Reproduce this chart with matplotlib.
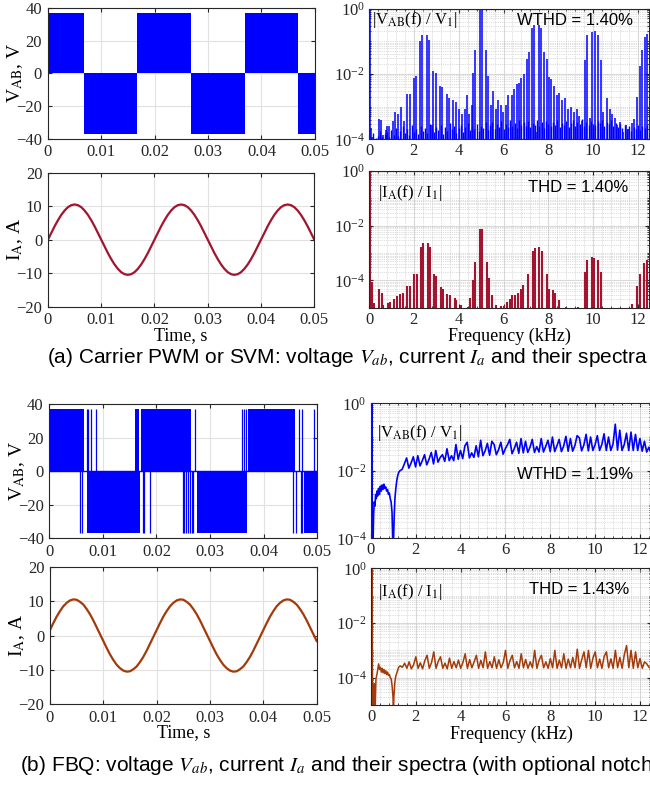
import numpy as np
import matplotlib.pyplot as plt
from matplotlib.ticker import MultipleLocator, LogLocator, NullFormatter, FixedLocator

# ---------------- data ----------------
V_DC = 37.0  # level of the switched line voltage, V

# (a) carrier PWM: line voltage blocks (edges in s, level in V)
a1_edges = [0.0, 0.0068, 0.0168, 0.0268, 0.0369, 0.0468, 0.05]
a1_levels = [37, -37, 37, -37, 37, -37]

# (a) phase current, sampled every 0.625 ms
t_cur = np.linspace(0, 0.05, 81)
ia_pwm = [0.0, 2.0, 4.0, 5.8, 7.4, 8.7, 9.7, 10.3, 10.5, 10.3, 9.7, 8.7, 7.4, 5.8, 4.0, 2.0,
          0.0, -2.0, -4.0, -5.8, -7.4, -8.7, -9.7, -10.3, -10.5, -10.3, -9.7, -8.7, -7.4, -5.8, -4.0, -2.0,
          0.0, 2.0, 4.0, 5.8, 7.4, 8.7, 9.7, 10.3, 10.5, 10.3, 9.7, 8.7, 7.4, 5.8, 4.0, 2.0,
          0.0, -2.0, -4.0, -5.8, -7.4, -8.7, -9.7, -10.3, -10.5, -10.3, -9.7, -8.7, -7.4, -5.8, -4.0, -2.0,
          0.0, 2.0, 4.0, 5.8, 7.4, 8.7, 9.7, 10.3, 10.5, 10.3, 9.7, 8.7, 7.4, 5.8, 4.0, 2.0,
          0.0]

# (a) voltage spectrum: harmonic lines (kHz, |V/V1|)
a2_f = [0.05, 0.07, 0.2, 0.43, 0.52, 0.64, 0.74, 0.82, 0.9, 1.05, 1.17, 1.3, 1.43, 1.56, 1.71, 1.83,
        2.0, 2.1, 2.27, 2.38, 2.57, 2.67, 2.79, 2.87, 2.97, 3.16, 3.27, 3.46, 3.57, 3.76, 3.86,
        4.03, 4.13, 4.28, 4.38, 4.47, 4.58, 4.65, 4.75, 4.95, 5.05, 5.22, 5.32, 5.44, 5.54, 5.66,
        5.77, 5.87, 5.99, 6.09, 6.21, 6.36, 6.46, 6.58, 6.7, 6.8, 6.91, 7.03, 7.13, 7.25, 7.34,
        7.47, 7.58, 7.67, 7.82, 7.92, 8.02, 8.14, 8.25, 8.37, 8.48, 8.62, 8.74, 8.89, 9.0, 9.15,
        9.26, 9.38, 9.51, 9.63, 9.73, 9.85, 9.96, 10.07, 10.22, 10.33, 10.45, 10.6, 10.74, 10.86,
        10.97, 11.08, 11.19, 11.34, 11.46, 11.56, 11.71, 11.83, 11.96, 12.08, 12.18, 12.3, 12.41]
a2_m = [1.0, 2.2e-4, 1.2e-4, 4.3e-4, 3.9e-4, 1.4e-4, 1.9e-4, 2.6e-4, 2.6e-4, 3.6e-4, 6.7e-4, 5.9e-4,
        9.6e-4, 3.6e-4, 2.4e-3, 2.4e-3, 7.6e-3, 8.6e-3, 9.9e-2, 0.15, 0.16, 0.106, 2.8e-4, 0.012,
        0.0103, 4.2e-3, 3.9e-3, 2.4e-3, 1.9e-3, 1.6e-3, 1.4e-3, 8.6e-4, 5.9e-4, 8.6e-4, 2.2e-3,
        5.9e-4, 1.1e-3, 0.011, 0.054, 1.0, 0.95, 0.054, 8.6e-3, 1.1e-3, 2.9e-3, 8.6e-4, 1.6e-3,
        1.1e-3, 6.7e-4, 1.1e-3, 2.3e-3, 2.3e-3, 3.5e-3, 4.9e-3, 5.3e-3, 7.6e-3, 0.01, 0.029, 0.048,
        0.26, 0.31, 1.7e-4, 0.31, 0.26, 0.048, 0.029, 8e-3, 6.8e-3, 4.2e-3, 2.3e-3, 2.6e-3, 1.6e-3,
        1.8e-3, 8.6e-4, 9.6e-4, 6.7e-4, 8.6e-4, 5.3e-4, 3.6e-4, 0.026, 0.15, 4.6e-4, 0.19, 0.2,
        0.15, 0.026, 6.7e-4, 1.8e-3, 8.6e-4, 5.9e-4, 4.6e-4, 2.8e-4, 3.3e-4, 1.7e-4, 2.8e-4, 2e-4,
        3.1e-4, 4.1e-4, 2e-3, 0.018, 0.054, 0.135, 0.17]
# low-level floor of the voltage spectrum, one line per 0.1 kHz (units of 1e-4)
a2_floor_f = np.arange(0.1, 12.41, 0.1)
a2_floor_m = [1.2, 1.6, 1.1, 1.3, 1.8, 1.2, 1.5, 1.7, 1.2, 1.9,
              1.4, 2.2, 1.3, 1.8, 2.5, 1.6, 2.1, 1.4, 2.8, 1.7,
              2.0, 1.5, 2.6, 1.8, 2.2, 1.6, 3.0, 2.1, 1.7, 2.4,
              1.9, 2.7, 1.5, 2.3, 1.8, 3.1, 2.0, 2.6, 1.6, 2.2,
              2.8, 1.7, 2.4, 3.2, 1.9, 2.6, 2.1, 3.0, 1.8, 2.5,
              2.2, 3.3, 1.9, 2.7, 3.5, 2.1, 2.9, 2.4, 3.6, 2.0,
              3.0, 2.3, 3.8, 2.6, 3.2, 2.2, 3.9, 2.8, 3.4, 2.5,
              3.6, 2.4, 3.1, 2.7, 4.0, 2.6, 3.3, 2.2, 3.7, 2.9,
              2.5, 3.4, 2.8, 3.9, 2.3, 3.1, 2.7, 3.6, 2.4, 3.2,
              3.8, 2.6, 3.3, 2.9, 4.1, 2.5, 3.5, 2.8, 3.7, 3.0,
              2.7, 3.6, 3.1, 4.0, 2.6, 3.4, 2.9, 3.8, 2.5, 3.2,
              2.4, 3.0, 2.2, 2.8, 2.0, 2.6, 1.8, 2.4, 2.1, 2.7,
              1.9, 2.5, 2.2, 2.8]

# (a) current spectrum lines (kHz, |I/I1|)
a4_f = [0.05, 0.15, 0.24, 0.46, 0.58, 0.64, 0.86, 0.94, 1.11, 1.23, 1.38, 1.5, 1.71, 1.83,
        2.02, 2.12, 2.32, 2.41, 2.62, 2.7, 2.9, 3.0, 3.2, 3.3, 3.5, 3.6, 3.83, 3.9, 4.09, 4.4,
        4.5, 4.65, 4.75, 4.95, 5.05, 5.25, 5.35, 5.47, 5.65, 5.91, 6.02, 6.14, 6.28, 6.39, 6.5,
        6.66, 6.76, 6.88, 7.08, 7.33, 7.41, 7.58, 7.7, 7.92, 8.02, 8.19, 8.29, 8.48, 8.78, 9.33,
        9.63, 9.73, 9.93, 10.02, 10.2, 10.37, 11.75, 11.96, 12.08, 12.26, 12.38]
a4_m = [1.0, 8.7e-5, 1.5e-5, 5e-5, 3.4e-5, 1.3e-5, 1.5e-5, 1.6e-5, 2e-5, 2.6e-5, 3.2e-5, 3.6e-5,
        6e-5, 6e-5, 1.7e-4, 1.7e-4, 1.7e-3, 2.4e-3, 2.3e-3, 1.6e-3, 1.7e-4, 1.5e-4, 5.6e-5, 5e-5,
        3.2e-5, 3e-5, 2.2e-5, 1.9e-5, 1.3e-5, 1.1e-5, 2.3e-5, 1e-4, 4.7e-4, 7.5e-3, 7.3e-3, 4.7e-4,
        1.2e-4, 2.8e-5, 1.3e-5, 1.2e-5, 1.2e-5, 1.6e-5, 2.1e-5, 2.8e-5, 3e-5, 3.4e-5, 5e-5, 7e-5,
        1.7e-4, 1.2e-3, 1.5e-3, 1.6e-3, 1.2e-3, 1.7e-4, 5e-5, 4.4e-5, 3.4e-5, 1.9e-5, 1.1e-5,
        1.1e-5, 2e-4, 5.7e-4, 7e-4, 6.7e-4, 5.7e-4, 2e-4, 1.4e-5, 6e-5, 1.7e-4, 4.4e-4, 5.4e-4]

# (b) FBQ line voltage: dense switching intervals (s) and isolated pulses (s)
b1_pos_blocks = [(0.0, 0.0064), (0.0160, 0.0168), (0.0172, 0.0264), (0.0371, 0.0458)]
b1_neg_blocks = [(0.0070, 0.0169), (0.0275, 0.0369), (0.0476, 0.0500)]
b1_pos_spikes = [0.0071, 0.0073, 0.0077, 0.0088, 0.0272, 0.0360, 0.0364, 0.0367, 0.0465,
                 0.0471, 0.0493]
b1_neg_spikes = [0.0057, 0.0061, 0.0174, 0.0177, 0.0188, 0.0249, 0.0251, 0.0256, 0.0259,
                 0.0262, 0.0266, 0.0269, 0.0455, 0.0461, 0.0469, 0.0472]

# (b) FBQ phase current, sampled every 0.625 ms
ia_fbq = [1.6, 3.6, 5.5, 7.1, 8.5, 9.5, 10.2, 10.5, 10.4, 9.8, 9.0, 7.7, 6.2, 4.4, 2.4, 0.4,
          -1.6, -3.6, -5.5, -7.1, -8.5, -9.5, -10.2, -10.5, -10.4, -9.8, -9.0, -7.7, -6.2, -4.4, -2.4, -0.4,
          1.6, 3.6, 5.5, 7.1, 8.5, 9.5, 10.2, 10.5, 10.4, 9.8, 9.0, 7.7, 6.2, 4.4, 2.4, 0.4,
          -1.6, -3.6, -5.5, -7.1, -8.5, -9.5, -10.2, -10.5, -10.4, -9.8, -9.0, -7.7, -6.2, -4.4, -2.4, -0.4,
          1.6, 3.6, 5.5, 7.1, 8.5, 9.5, 10.2, 10.5, 10.4, 9.8, 9.0, 7.7, 6.2, 4.4, 2.4, 0.4,
          -1.6]

# (b) FBQ voltage spectrum, low band (units of 1e-2)
b2_low_f = [0.0, 0.03, 0.05, 0.07, 0.1, 0.13, 0.16, 0.19, 0.22, 0.25, 0.28, 0.31, 0.35, 0.39,
            0.43, 0.47, 0.51, 0.55, 0.59, 0.63, 0.67, 0.71, 0.75, 0.79, 0.83, 0.87, 0.91, 0.95,
            0.98, 1.0, 1.02, 1.05, 1.08, 1.12, 1.16, 1.2, 1.25, 1.3]
b2_low_m = [0.001, 0.001, 100, 0.001, 0.005, 0.05, 0.12, 0.09, 0.2, 0.15, 0.25, 0.18, 0.3, 0.2,
            0.35, 0.25, 0.38, 0.28, 0.4, 0.3, 0.33, 0.25, 0.28, 0.2, 0.22, 0.15, 0.12, 0.06,
            0.01, 0.005, 0.01, 0.05, 0.15, 0.3, 0.5, 0.7, 0.9, 1.0]
# (b) FBQ voltage spectrum 1.4-12.5 kHz, every 0.1 kHz (units of 1e-2)
b_hi_f = np.arange(1.4, 12.51, 0.1)
b2_hi_m = [1.1, 1.6, 2.4, 1.2, 1.7, 2.6, 1.3, 2.8, 1.4, 2.0,
           3.0, 1.5, 2.2, 3.5, 1.6, 4.0, 1.8, 2.5, 3.0, 1.9,
           4.5, 2.0, 2.8, 2.0, 6.0, 2.2, 4.0, 2.3, 5.5, 7.0,
           2.4, 3.4, 2.5, 5.5, 2.6, 8.0, 2.8, 3.9, 6.5, 2.9,
           7.5, 6.0, 3.0, 4.2, 7.0, 3.1, 4.5, 6.0, 8.5, 3.2,
           4.6, 7.0, 3.3, 9.0, 3.4, 7.5, 3.5, 5.0, 8.5, 3.5,
           5.2, 3.6, 9.0, 3.6, 5.3, 8.0, 3.7, 10.0, 3.7, 5.5,
           8.5, 3.7, 5.4, 10.5, 3.8, 9.0, 3.8, 5.6, 11.0, 9.5,
           3.9, 5.8, 12.0, 3.9, 10.0, 4.0, 5.9, 11.0, 4.0, 6.0,
           12.5, 4.0, 10.0, 4.0, 6.2, 24.0, 4.1, 16.0, 4.0, 6.0,
           13.0, 4.0, 14.0, 4.0, 12.0, 4.0, 9.0, 3.8, 7.5, 3.6,
           5.0, 3.2]

# (b) FBQ current spectrum (units of 1e-4)
b4_low_f = [0.0, 0.03, 0.05, 0.07, 0.1, 0.14, 0.18, 0.22, 0.27, 0.31, 0.34, 0.38, 0.42, 0.46,
            0.5, 0.54, 0.58, 0.62, 0.66, 0.7, 0.74, 0.78, 0.82, 0.86, 0.9, 0.94, 0.98, 1.0,
            1.02, 1.06, 1.1, 1.16, 1.23, 1.3]
b4_low_m = [0.05, 0.05, 10000, 0.05, 0.2, 0.6, 0.05, 0.9, 1.4, 2.2, 3.2, 2.0, 2.4, 1.6,
            2.2, 1.5, 2.0, 1.4, 1.8, 1.3, 1.6, 1.2, 1.3, 1.0, 0.9, 0.5, 0.2, 0.05,
            0.2, 0.64, 1.1, 1.6, 2.4, 2.7]
b4_hi_m = [2.4, 3.4, 2.2, 3.8, 2.1, 3.0, 5.8, 2.2, 3.5, 2.1,
           4.2, 6.6, 2.2, 3.6, 8.8, 2.2, 4.0, 5.8, 2.2, 3.4,
           2.1, 5.2, 2.2, 3.9, 2.3, 4.4, 2.2, 3.6, 7.5, 2.2,
           4.6, 2.3, 3.8, 6.6, 2.2, 4.3, 2.3, 8.8, 2.2, 3.9,
           2.3, 5.8, 2.2, 4.5, 2.3, 3.6, 10.0, 2.2, 4.2, 6.6,
           2.3, 3.9, 2.2, 7.5, 2.3, 4.6, 2.2, 3.8, 2.3, 10.0,
           2.2, 4.4, 6.6, 2.3, 3.8, 2.2, 5.0, 2.3, 10.0, 2.2,
           4.4, 2.3, 7.5, 2.2, 4.8, 2.3, 5.5, 2.3, 11.0, 2.2,
           4.6, 8.8, 2.3, 10.0, 2.2, 5.2, 8.8, 2.3, 4.8, 2.2,
           6.0, 8.8, 2.3, 4.9, 2.2, 10.0, 2.3, 5.5, 2.2, 7.0,
           15.0, 2.3, 10.0, 2.2, 8.8, 2.3, 5.0, 2.2, 3.8, 3.2,
           2.4, 2.2]

time_ticks = [0, 0.01, 0.02, 0.03, 0.04, 0.05]
time_labels = ['0', '0.01', '0.02', '0.03', '0.04', '0.05']

# ---------------- style ----------------
plt.rcParams['font.family'] = ['Liberation Serif', 'DejaVu Serif']
plt.rcParams['mathtext.fontset'] = 'stix'
plt.rcParams['axes.linewidth'] = 0.8
plt.rcParams['axes.edgecolor'] = '#262626'
plt.rcParams['xtick.color'] = '#262626'
plt.rcParams['ytick.color'] = '#262626'

BLUE = '#0000FF'
CRIMSON = '#A2142F'
RUST = '#A33A0A'
SANS = ['Liberation Sans', 'DejaVu Sans']

fig = plt.figure(figsize=(6.5, 7.88), dpi=100)


def time_axes(rect, ylim, yticks):
    ax = fig.add_axes(rect)
    ax.set_xlim(0, 0.05)
    ax.set_ylim(*ylim)
    ax.set_xticks(time_ticks)
    ax.set_xticklabels(time_labels)
    ax.set_yticks(yticks)
    ax.grid(True, color='#e1e1e1', lw=0.8)
    ax.set_axisbelow(True)
    ax.tick_params(direction='in', top=True, right=True, labelsize=12, length=3, pad=4)
    return ax


def spec_axes(rect, ybottom):
    ax = fig.add_axes(rect)
    ax.set_yscale('log')
    ax.set_xlim(0, 12.5)
    ax.set_ylim(ybottom, 1)
    ax.set_xticks(range(0, 13, 2))
    ax.xaxis.set_minor_locator(MultipleLocator(0.4))
    ax.yaxis.set_major_locator(FixedLocator([1e-4, 1e-2, 1]))
    ax.yaxis.set_minor_locator(LogLocator(base=10, subs=np.arange(1, 10), numticks=30))
    ax.yaxis.set_minor_formatter(NullFormatter())
    ax.grid(True, which='major', color='#d9d9d9', lw=0.8)
    ax.grid(True, which='minor', color='#bcbcbc', lw=0.5, ls=':')
    ax.set_axisbelow(True)
    ax.tick_params(which='both', direction='in', top=True, right=True, labelsize=12, pad=3)
    ax.tick_params(which='major', length=3)
    ax.tick_params(which='minor', length=1.5)
    return ax


# (a) voltage
ax = time_axes([0.0731, 0.8242, 0.4115, 0.1652], (-40, 40), [-40, -20, 0, 20, 40])
ax.stairs(a1_levels, a1_edges, baseline=0, fill=True, color=BLUE)
ax.set_ylabel('V$_{\\rm AB}$, V', fontsize=14)
ax.yaxis.set_label_coords(-0.085, 0.5)

# (a) voltage spectrum
ax = spec_axes([0.5677, 0.8232, 0.4311, 0.166], 1e-4)
ax.vlines(a2_floor_f, 1e-6, np.array(a2_floor_m) * 1e-4, color=BLUE, lw=1.0)
ax.vlines(a2_f, 1e-6, a2_m, color=BLUE, lw=1.1)
ax.text(0.01, 0.985, '|V$_{\\rm AB}$(f) / V$_1$|', transform=ax.transAxes, fontsize=12,
        va='top', ha='left')
ax.text(0.527, 0.966, 'WTHD = 1.40%', transform=ax.transAxes, fontsize=12, family=SANS,
        va='top', ha='left')

# (a) current
ax = time_axes([0.0738, 0.6108, 0.4097, 0.1701], (-20, 20), [-20, -10, 0, 10, 20])
ax.plot(t_cur, ia_pwm, color=CRIMSON, lw=1.6)
ax.set_ylabel('I$_{\\rm A}$, A', fontsize=14)
ax.yaxis.set_label_coords(-0.085, 0.5)
ax.set_xlabel('Time, s', fontsize=13, labelpad=-1)

# (a) current spectrum
ax = spec_axes([0.5677, 0.6095, 0.4311, 0.1735], 1e-5)
ax.vlines(a4_f, 1e-7, a4_m, color=CRIMSON, lw=1.5)
ax.text(0.032, 0.912, '|I$_{\\rm A}$(f) / I$_1$|', transform=ax.transAxes, fontsize=12,
        va='top', ha='left')
ax.text(0.566, 0.934, 'THD = 1.40%', transform=ax.transAxes, fontsize=12, family=SANS,
        va='top', ha='left')
ax.set_xlabel('Frequency (kHz)', fontsize=13, labelpad=0)

fig.text(47 / 650, 0.5393, '(a) Carrier PWM or SVM: voltage $V_{ab}$, current $I_a$ and their spectra',
         fontsize=15, family=SANS, va='baseline', ha='left')

# (b) voltage
ax = time_axes([0.0758, 0.3169, 0.4123, 0.1701], (-40, 40), [-40, -20, 0, 20, 40])
ax.axhline(0, color=BLUE, lw=1.0)
ax.broken_barh([(s, e - s) for s, e in b1_pos_blocks], (0, V_DC), color=BLUE, lw=0)
ax.broken_barh([(s, e - s) for s, e in b1_neg_blocks], (-V_DC, V_DC), color=BLUE, lw=0)
ax.vlines(b1_pos_spikes, 0, V_DC, color=BLUE, lw=0.9)
ax.vlines(b1_neg_spikes, -V_DC, 0, color=BLUE, lw=0.9)
ax.set_ylabel('V$_{\\rm AB}$, V', fontsize=14)
ax.yaxis.set_label_coords(-0.082, 0.5)

# (b) voltage spectrum
ax = spec_axes([0.5703, 0.3169, 0.4315, 0.1713], 1e-4)
ax.plot(np.concatenate([b2_low_f, b_hi_f]),
        np.concatenate([b2_low_m, b2_hi_m]) * 1e-2, color=BLUE, lw=1.2)
ax.text(0.022, 0.854, '|V$_{\\rm AB}$(f) / V$_1$|', transform=ax.transAxes, fontsize=12,
        va='top', ha='left')
ax.text(0.52, 0.528, 'WTHD = 1.19%', transform=ax.transAxes, fontsize=12, family=SANS,
        va='top', ha='left')

# (b) current
ax = time_axes([0.0769, 0.1062, 0.4103, 0.1746], (-20, 20), [-20, -10, 0, 10, 20])
ax.plot(t_cur, ia_fbq, color=RUST, lw=1.6)
ax.set_ylabel('I$_{\\rm A}$, A', fontsize=14)
ax.yaxis.set_label_coords(-0.085, 0.5)
ax.set_xlabel('Time, s', fontsize=13, labelpad=-1)

# (b) current spectrum
ax = spec_axes([0.5708, 0.1053, 0.4311, 0.1735], 1e-5)
ax.plot(np.concatenate([b4_low_f, b_hi_f]),
        np.concatenate([b4_low_m, b4_hi_m]) * 1e-4, color=RUST, lw=1.1)
ax.text(0.025, 0.9, '|I$_{\\rm A}$(f) / I$_1$|', transform=ax.transAxes, fontsize=12,
        va='top', ha='left')
ax.text(0.562, 0.9, 'THD = 1.43%', transform=ax.transAxes, fontsize=12, family=SANS,
        va='top', ha='left')
ax.set_xlabel('Frequency (kHz)', fontsize=13, labelpad=0)

# caption (b) runs past the right edge, as in the reference
fig.text(20 / 650, 0.0221,
         '(b) FBQ: voltage $V_{ab}$, current $I_a$ and their spectra (with optional notch filter)',
         fontsize=15, family=SANS, va='baseline', ha='left')

fig.savefig('out.png', dpi=100)
